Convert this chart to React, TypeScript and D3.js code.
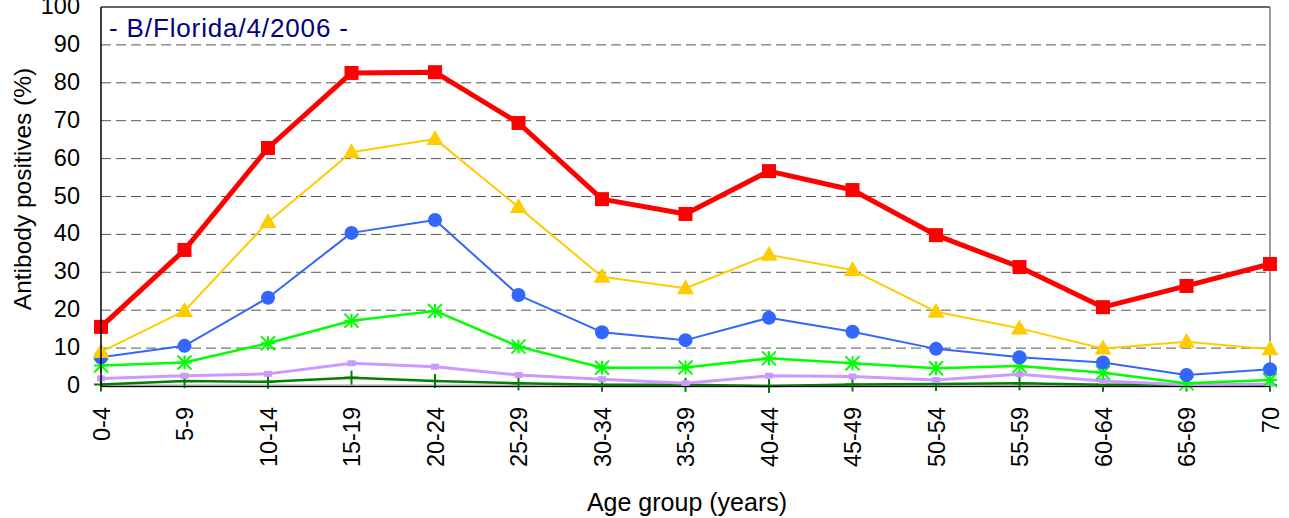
import React from "react";
import * as d3 from "d3";

const categories = ["0-4","5-9","10-14","15-19","20-24","25-29","30-34","35-39","40-44","45-49","50-54","55-59","60-64","65-69","70"];
const redValues = [15.6,35.9,62.8,82.6,82.8,69.4,49.3,45.4,56.7,51.7,39.8,31.4,20.8,26.4,32.2];
const yellowValues = [9.0,19.8,43.3,61.7,65.2,47.2,28.8,25.8,34.6,30.6,19.6,15.2,9.9,11.7,9.7];
const blueValues = [7.6,10.6,23.3,40.4,43.8,24.0,14.2,12.1,18.0,14.3,9.8,7.6,6.2,2.9,4.4];
const greenValues = [5.4,6.2,11.3,17.2,19.8,10.4,4.8,4.9,7.3,6.0,4.7,5.3,3.5,0.7,1.6];
const purpleValues = [2.0,2.7,3.2,6.0,5.1,2.9,1.8,0.7,2.7,2.5,1.6,3.1,1.3,0.3,0.5];
const darkGreenValues = [0.4,1.3,1.1,2.2,1.3,0.7,0.3,0.3,0.0,0.4,0.5,0.7,0.3,0.4,0.3];
const grayValues = [0,0,0,0,0,0,0,0,0,0,0,0,0,0,0];
const yTicks = [0,10,20,30,40,50,60,70,80,90,100];

const W = 1289, H = 518;
const left = 101, right = 1270, top = 7, bottom = 386;
const FONT = "Liberation Sans, Arial, sans-serif";

export default function App() {
  const x = d3.scalePoint<string>().domain(categories).range([left, right]).padding(0);
  const y = d3.scaleLinear().domain([0, 100]).range([bottom, top]);
  const line = (vals: number[]) =>
    d3.line<number>().x((_, i) => x(categories[i])!).y((v) => y(v))(vals) || "";

  const series = [
    { vals: grayValues, color: "#a8a8a8", w: 3, marker: "none" },
    { vals: darkGreenValues, color: "#008000", w: 2.5, marker: "plus" },
    { vals: purpleValues, color: "#cc99ff", w: 3, marker: "dash" },
    { vals: greenValues, color: "#00ff00", w: 2.5, marker: "star" },
    { vals: blueValues, color: "#3366ff", w: 2, marker: "circle" },
    { vals: yellowValues, color: "#ffcc00", w: 2, marker: "triangle" },
    { vals: redValues, color: "#ff0000", w: 5, marker: "square" },
  ];

  const marker = (m: string, color: string, cx: number, cy: number, k: string) => {
    switch (m) {
      case "square":
        return <rect key={k} x={cx - 7} y={cy - 7} width={14} height={14} fill={color} />;
      case "triangle":
        return <path key={k} d={`M${cx},${cy - 9}L${cx + 8.5},${cy + 6}L${cx - 8.5},${cy + 6}Z`} fill={color} />;
      case "circle":
        return <circle key={k} cx={cx} cy={cy} r={7} fill={color} />;
      case "star":
        return (
          <g key={k} stroke={color} strokeWidth={2}>
            <line x1={cx} y1={cy - 7} x2={cx} y2={cy + 7} />
            <line x1={cx - 7} y1={cy - 7} x2={cx + 7} y2={cy + 7} />
            <line x1={cx - 7} y1={cy + 7} x2={cx + 7} y2={cy - 7} />
            <line x1={cx - 7} y1={cy} x2={cx + 7} y2={cy} />
          </g>
        );
      case "dash":
        return <rect key={k} x={cx - 4} y={cy - 3} width={8} height={6} fill={color} />;
      case "plus":
        return (
          <g key={k} stroke={color} strokeWidth={2}>
            <line x1={cx} y1={cy - 7} x2={cx} y2={cy + 7} />
            <line x1={cx - 7} y1={cy} x2={cx + 7} y2={cy} />
          </g>
        );
      default:
        return null;
    }
  };

  return (
    <svg width={W} height={H} style={{ position: "absolute", left: 0, top: 0, background: "#fff" }} fontFamily={FONT}>
      {yTicks.filter((t) => t > 0 && t < 100).map((t) => (
        <line key={t} x1={left} x2={right} y1={y(t)} y2={y(t)} stroke="#555" strokeWidth={1} strokeDasharray="10,5" />
      ))}
      <line x1={left} x2={right} y1={y(100)} y2={y(100)} stroke="#333" strokeWidth={1.5} />
      <line x1={right} x2={right} y1={top} y2={bottom} stroke="#777" strokeWidth={1.5} />
      {yTicks.map((t) => (
        <text key={t} x={80} y={y(t) + 7} textAnchor="end" fontSize={23.5} fill="#000">{t}</text>
      ))}
      {series.map((s, si) => (
        <g key={si}>
          <path d={line(s.vals)} fill="none" stroke={s.color} strokeWidth={s.w} strokeLinejoin="round" />
          {s.vals.map((v, i) => marker(s.marker, s.color, x(categories[i])!, y(v), `${si}-${i}`))}
        </g>
      ))}
      <line x1={left} x2={left} y1={top} y2={bottom} stroke="#000" strokeWidth={1.5} />
      <line x1={left} x2={right} y1={bottom + 0.5} y2={bottom + 0.5} stroke="#000" strokeWidth={1} />
      {categories.map((c) => (
        <text key={c} transform={`translate(${x(c)! + 8.5},${407}) rotate(-90)`} textAnchor="end" fontSize={23.5} fill="#000">{c}</text>
      ))}
      <text x={687} y={511} textAnchor="middle" fontSize={25} fill="#000">Age group (years)</text>
      <text transform={`translate(31,189) rotate(-90)`} textAnchor="middle" fontSize={24.5} fill="#000">Antibody positives (%)</text>
      <text x={109} y={37} fontSize={26} fill="#000080" textLength={239} lengthAdjust="spacing">- B/Florida/4/2006 -</text>
    </svg>
  );
}
